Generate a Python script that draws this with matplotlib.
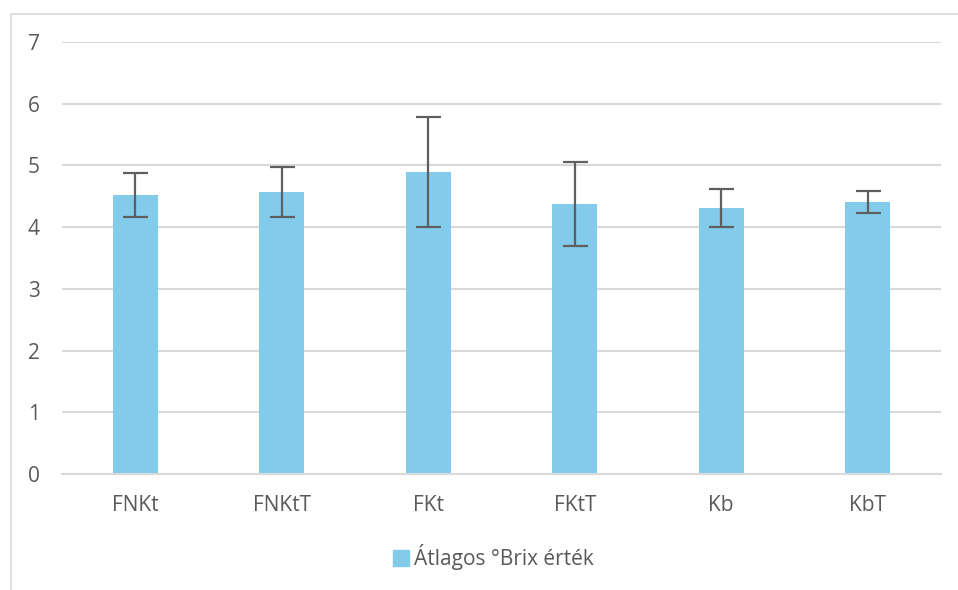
import numpy as np
import matplotlib.pyplot as plt
from matplotlib.lines import Line2D

categories = ['FNKt', 'FNKtT', 'FKt', 'FKtT', 'Kb', 'KbT']
brix_mean = [4.52, 4.57, 4.89, 4.37, 4.31, 4.41]
brix_err = [0.36, 0.40, 0.89, 0.68, 0.31, 0.18]
series_name = 'Átlagos °Brix érték'

bar_color = '#83CBEB'
text_color = '#595959'
grid_color = '#D9D9D9'

plt.rcParams['font.family'] = ['Open Sans', 'DejaVu Sans']

fig = plt.figure(figsize=(9.58, 5.90), dpi=100)
ax = fig.add_axes([62/958, 1 - 474/590, (941 - 62)/958, (474 - 42)/590])

x = np.arange(len(categories))
ax.bar(x, brix_mean, width=0.31, color=bar_color, zorder=2,
       yerr=brix_err, error_kw=dict(ecolor='#5F5F5F', elinewidth=1.6,
                                    capsize=9, capthick=1.6, zorder=3))

ax.set_xlim(-0.5, len(categories) - 0.5)
ax.set_ylim(0, 7)
ax.set_yticks(range(0, 8))
ax.set_xticks(x)
ax.set_xticklabels(categories)
ax.yaxis.grid(True, color=grid_color, linewidth=1.5, zorder=0)
ax.set_axisbelow(True)
for s in ['top', 'right', 'left']:
    ax.spines[s].set_visible(False)
ax.spines['bottom'].set_color(grid_color)
ax.spines['bottom'].set_linewidth(1.5)
ax.tick_params(axis='both', length=0, labelsize=15, colors=text_color)
ax.tick_params(axis='x', pad=15)
ax.tick_params(axis='y', pad=16)

# outer chart border (left and top visible)
fig.add_artist(Line2D([10.5/958, 10.5/958], [0, 1 - 13.5/590], transform=fig.transFigure,
                      color=grid_color, linewidth=1.2))
fig.add_artist(Line2D([10.5/958, 1], [1 - 13.5/590, 1 - 13.5/590], transform=fig.transFigure,
                      color=grid_color, linewidth=1.2))

handle = Line2D([], [], marker='s', linestyle='none', markersize=11,
                markerfacecolor=bar_color, markeredgecolor=bar_color)
fig.legend([handle], [series_name], loc='center', bbox_to_anchor=(492/958, 1 - 557/590),
           frameon=False, fontsize=15, labelcolor=text_color, handletextpad=0.1,
           handlelength=1.0)

fig.savefig('out.png', dpi=100)
